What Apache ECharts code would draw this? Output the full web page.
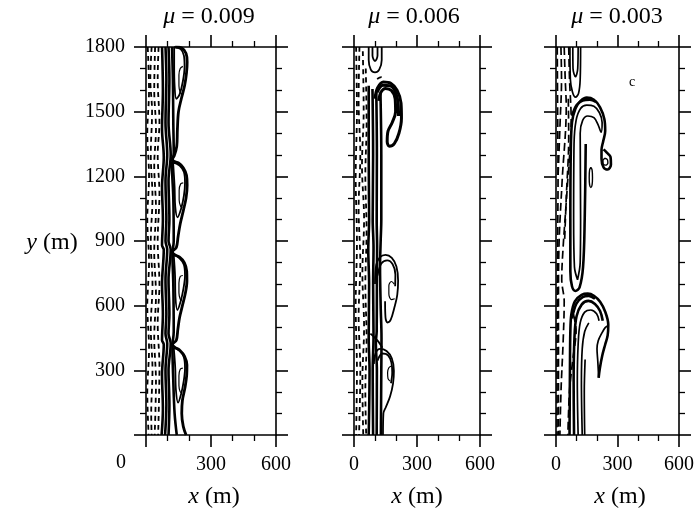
<!DOCTYPE html>
<html>
<head>
<meta charset="utf-8">
<script src="https://cdn.jsdelivr.net/npm/echarts@6/dist/echarts.min.js"></script>
<style>
  html, body { margin: 0; padding: 0; background: #fff; }
  #chart { width: 697px; height: 515px; }
</style>
</head>
<body>
<div id="chart"></div>
<script>
// panel titles and axis ticks
const panelTitles = ['0.009', '0.006', '0.003'];
const xTicks = [0, 300, 600];
const yTicks = [0, 300, 600, 900, 1200, 1500, 1800];

// ---- panel 1 (mu = 0.009), x / y in metres ----
const p1Dash1 = [[8,1800],[14,1600],[6,1400],[14,1200],[6,1000],[14,800],[6,600],[14,400],[6,200],[12,0]];
const p1Dash2 = [[26,1800],[20,1650],[28,1500],[22,1300],[30,1100],[22,900],[30,700],[22,500],[30,300],[24,100],[26,0]];
const p1Dash3 = [[42,1800],[38,1600],[46,1420],[38,1250],[46,1050],[38,850],[46,650],[38,450],[46,250],[40,0]];
const p1Dash4 = [[58,1800],[54,1650],[62,1450],[54,1300],[62,1120],[54,900],[62,700],[54,520],[62,320],[56,0]];
const p1BandA = [[74,1800],[78,1600],[74,1420],[82,1290],[74,1150],[78,1000],[74,880],[82,860],[74,700],[78,560],[74,440],[82,420],[74,280],[78,120],[72,0]];
const p1BandB = [[90,1800],[94,1650],[90,1450],[98,1300],[90,1180],[94,1000],[90,900],[98,860],[90,720],[94,560],[90,470],[98,425],[90,300],[94,140],[88,0]];
const p1BandC = [[104,1800],[108,1650],[104,1450],[114,1300],[104,1180],[108,1000],[104,900],[114,860],[104,720],[108,560],[104,470],[114,425],[104,300],[108,140],[104,0]];
const p1BandD = [[120,1800],[124,1650],[126,1450],[128,1310],[120,1250],[126,1100],[128,900],[122,840],[126,700],[128,480],[122,410],[126,250],[132,100],[142,0]];
const p1Outer = [[135,1800],[165,1795],[185,1770],[190,1730],[187,1680],[178,1620],[163,1560],[150,1500],[145,1420],[142,1340],[130,1295],[118,1280],[128,1270],[150,1262],[172,1240],[187,1205],[190,1160],[185,1100],[172,1040],[158,980],[148,920],[140,870],[122,850],[130,838],[155,825],[177,800],[188,760],[189,715],[182,660],[168,600],[155,545],[147,490],[140,440],[122,420],[132,408],[157,392],[178,365],[189,325],[188,280],[180,220],[168,160],[165,100],[172,40],[185,0]];
const p1Loop1 = [[130,1800],[160,1790],[175,1760],[178,1710],[170,1640],[155,1580],[140,1560],[132,1620],[130,1720],[130,1800]];
const p1Loop2 = [[125,1265],[155,1250],[175,1220],[180,1170],[175,1110],[162,1050],[145,1010],[135,1060],[132,1150],[125,1265]];
const p1Loop3 = [[128,835],[155,820],[175,790],[180,740],[173,680],[160,620],[145,580],[136,640],[134,740],[128,835]];
const p1Loop4 = [[128,405],[155,390],[175,360],[180,310],[174,250],[162,190],[148,150],[138,210],[135,310],[128,405]];
const p1Curl1 = [[170,1710],[158,1700],[152,1670],[152,1620],[158,1590],[168,1580]];
const p1Curl2 = [[172,1170],[160,1165],[153,1135],[153,1090],[160,1060],[168,1055]];
const p1Curl3 = [[170,740],[158,735],[152,705],[152,660],[158,630],[166,625]];
const p1Curl4 = [[170,310],[158,305],[152,275],[152,230],[158,200],[166,195]];

// ---- panel 2 (mu = 0.006) ----
const p2Dash1 = [[10,1800],[14,1500],[8,1200],[14,900],[8,600],[14,300],[10,0]];
const p2Dash2 = [[26,1800],[22,1550],[30,1300],[22,1050],[30,800],[22,550],[30,300],[24,0]];
const p2Dash3 = [[42,1780],[46,1500],[38,1250],[48,1000],[40,750],[48,500],[40,250],[44,0]];
const p2Dash4 = [[56,1700],[60,1450],[54,1200],[60,950],[54,700],[60,450],[54,200],[58,0]];
const p2DashTop = [[110,1652],[130,1660],[150,1655]];
const p2BandA = [[70,1620],[70,1300],[72,1000],[68,860],[72,700],[70,450],[74,300],[70,0]];
const p2BandB = [[88,1605],[91,1300],[89,1000],[93,870],[91,700],[93,460],[89,300],[91,0]];
const p2BandC = [[106,1598],[109,1300],[108,1000],[110,875],[109,700],[108,480],[104,430],[109,300],[108,0]];
const p2BandD = [[126,1585],[130,1300],[130,1000],[127,900],[124,780],[127,600],[131,450],[130,300],[128,0]];
const p2TopU = [[70,1800],[70,1740],[80,1695],[100,1682],[120,1695],[132,1740],[132,1800]];
const p2TopU2 = [[88,1800],[88,1760],[100,1735],[112,1760],[112,1800]];
const p2Hook1 = [[100,1560],[112,1610],[140,1638],[175,1632],[205,1600],[224,1540],[226,1470],[214,1400],[192,1352],[168,1340],[158,1362],[162,1410],[182,1450],[198,1500],[196,1560],[178,1598],[150,1608],[128,1590],[118,1550]];
const p2Hook1b = [[110,1590],[138,1622],[172,1620],[198,1590],[210,1540],[212,1480]];
const p2Lobe2 = [[100,700],[106,790],[124,825],[150,836],[180,822],[202,782],[210,716],[206,650],[192,590],[175,535],[160,522],[150,545],[148,620]];
const p2Lobe2b = [[112,740],[130,795],[158,810],[184,792],[197,745],[196,690]];
const p2Curl2 = [[192,700],[178,712],[166,692],[166,655],[178,628],[194,632]];
const p2Neck = [[78,470],[95,455],[110,440],[122,425],[135,405]];
const p2Lobe3 = [[95,330],[102,378],[124,400],[155,390],[180,356],[190,298],[186,240],[172,180],[152,130],[140,100],[138,0]];
const p2Lobe3b = [[112,345],[135,378],[162,370],[178,336],[182,290],[176,240]];
const p2Curl3 = [[178,320],[166,312],[160,290],[162,262],[172,250]];

// ---- panel 3 (mu = 0.003) ----
const p3DashA = [[6,1800],[8,1500],[10,1200],[8,900],[6,600],[5,300],[5,0]];
const p3DashB = [[40,1800],[45,1650],[50,1521],[30,1180],[14,856],[12,600],[12,0]];
const p3DashC = [[62,1800],[66,1650],[74,1460],[55,1150],[34,860],[28,720],[40,620],[35,437],[25,220],[19,0]];
const p3DashD = [[24,1800],[27,1650],[20,1450],[10,1200]];
const p3DashE = [[85,560],[98,484],[82,350],[66,205],[58,0]];
const p3DashF = [[60,1560],[62,1380],[50,1100],[42,900]];
const p3TopU = [[68,1800],[70,1650],[80,1592],[95,1567],[110,1585],[118,1650],[120,1800]];
const p3TopU2 = [[82,1800],[83,1700],[95,1662],[106,1700],[108,1800]];
const p3Hook1 = [[145,1350],[140,1000],[132,780],[115,685],[95,668],[78,690],[70,760],[70,1000],[72,1300],[78,1450],[95,1515],[120,1550],[150,1565],[185,1555],[215,1520],[236,1465],[240,1410],[230,1362],[222,1322],[222,1282],[232,1242],[252,1232],[268,1255],[266,1290],[248,1310],[232,1325]];
const p3Hook1b = [[105,720],[90,780],[86,1000],[88,1350],[98,1460],[120,1515],[150,1530],[185,1525],[212,1495],[225,1450],[220,1405],[205,1440],[185,1472],[155,1480],[130,1460],[118,1400],[120,1000],[118,800],[105,720]];
const p3Hook1c = [[78,1480],[100,1530],[130,1552],[165,1556],[195,1545]];
const p3Ring = [[240,1284],[251,1277],[253,1262],[242,1252],[230,1258],[229,1274],[240,1284]];
const p3Blob = [[170,1242],[176,1230],[178,1195],[176,1160],[170,1148],[164,1160],[162,1195],[164,1230],[170,1242]];
const p3Hook2 = [[66,0],[68,300],[70,480],[75,560],[92,620],[125,650],[155,656],[185,646],[215,618],[240,572],[255,512],[252,462],[240,420],[226,370],[214,310],[208,265]];
const p3Hook2Tail = [[255,508],[240,498],[222,470],[206,437],[200,400],[204,340],[208,268]];
const p3Hook2B = [[88,0],[86,250],[90,450],[100,550],[125,605],[158,622],[190,608],[215,575],[228,530]];
const p3Hook2C = [[108,0],[104,250],[108,420],[118,520],[140,570],[170,580],[198,562],[210,530]];
const p3Hook2D = [[128,0],[124,250],[128,400],[140,480],[160,520]];
const p3Hook2E = [[140,0],[138,200],[142,350]];
const p3Hook2F = [[78,540],[100,610],[130,640],[160,645],[190,632]];

const SERIF = 'Liberation Serif';
const grids = [
  { left: 146, top: 47, width: 130, height: 388 },
  { left: 354, top: 47, width: 126, height: 388 },
  { left: 556, top: 47, width: 127, height: 388 }
];

function line(data, g, w, dash) {
  return {
    type: 'line', xAxisIndex: g * 2, yAxisIndex: g * 2, data: data,
    symbol: 'none', smooth: 0.35, silent: true,
    lineStyle: { color: '#000', width: w, type: dash || 'solid' }
  };
}

function axisBase(g) {
  return {
    type: 'value', gridIndex: g,
    axisLine: { show: true, onZero: false, lineStyle: { color: '#000', width: 1.6 } },
    axisTick: { show: true, length: 12, lineStyle: { color: '#000', width: 1.6 } },
    minorTick: { show: true, splitNumber: 3, length: 6, lineStyle: { color: '#000', width: 1.3 } },
    splitLine: { show: false }
  };
}

const xAxes = [], yAxes = [];
grids.forEach(function (gr, g) {
  ['bottom', 'top'].forEach(function (pos) {
    xAxes.push(Object.assign(axisBase(g), {
      position: pos, min: xTicks[0], max: xTicks[xTicks.length - 1], interval: 300,
      axisLabel: {
        show: pos === 'bottom', margin: 20, color: '#000', fontFamily: SERIF, fontSize: 20,
        formatter: function (v) { return (g === 0 && v === 0) ? '' : String(v); }
      }
    }));
  });
  ['left', 'right'].forEach(function (pos) {
    yAxes.push(Object.assign(axisBase(g), {
      position: pos, min: yTicks[0], max: yTicks[yTicks.length - 1], interval: 300,
      axisLabel: {
        show: pos === 'left' && g === 0, margin: 21, color: '#000', fontFamily: SERIF, fontSize: 20,
        formatter: function (v) { return v === 0 ? '' : String(v); }
      }
    }));
  });
});

const shortDash = [5, 4];
const longDash = [8, 4];
const series = [];
[p1Dash1, p1Dash2, p1Dash3, p1Dash4].forEach(d => series.push(line(d, 0, 1.8, shortDash)));
[p1BandA, p1BandB, p1BandC, p1BandD].forEach(d => series.push(line(d, 0, 2.6, null)));
series.push(line(p1Outer, 0, 2.8, null));
[p1Loop1, p1Loop2, p1Loop3, p1Loop4].forEach(d => series.push(line(d, 0, 1.8, null)));
[p1Curl1, p1Curl2, p1Curl3, p1Curl4].forEach(d => series.push(line(d, 0, 1.2, null)));

[p2Dash1, p2Dash2, p2Dash3, p2Dash4, p2DashTop].forEach(d => series.push(line(d, 1, 1.8, shortDash)));
[p2BandA, p2BandB, p2BandC, p2BandD].forEach(d => series.push(line(d, 1, 2.6, null)));
[p2Hook1, p2Hook1b].forEach(d => series.push(line(d, 1, 3, null)));
[p2TopU, p2TopU2, p2Lobe2, p2Lobe2b, p2Neck, p2Lobe3, p2Lobe3b].forEach(d => series.push(line(d, 1, 1.8, null)));
[p2Curl2, p2Curl3].forEach(d => series.push(line(d, 1, 1.2, null)));

[p3DashA, p3DashB, p3DashC, p3DashD, p3DashE, p3DashF].forEach(d => series.push(line(d, 2, 1.7, longDash)));
[p3Hook1, p3Hook2, p3Hook2B, p3Hook1c, p3Hook2F].forEach(d => series.push(line(d, 2, 2.6, null)));
[p3TopU, p3TopU2, p3Hook1b, p3Hook2Tail, p3Hook2C, p3Hook2D, p3Hook2E].forEach(d => series.push(line(d, 2, 1.7, null)));
[p3Ring, p3Blob].forEach(d => series.push(line(d, 2, 1.4, null)));

function txt(text, x, y, size) {
  return {
    type: 'text', x: x, y: y, silent: true,
    style: {
      text: text, fill: '#000', fontFamily: SERIF, fontSize: size,
      align: 'center', verticalAlign: 'middle',
      rich: { i: { fontStyle: 'italic', fontFamily: SERIF, fontSize: size, fill: '#000' } }
    }
  };
}

const titleX = [209, 414, 617];
const nameX = [214, 417, 620];
const graphics = [];
panelTitles.forEach(function (t, i) {
  graphics.push(txt('{i|\u03bc} = ' + t, titleX[i], 17, 24));
  graphics.push(txt('{i|x} (m)', nameX[i], 497, 24));
});
graphics.push(txt('{i|y} (m)', 52, 243, 24));
graphics.push(txt('0', 121, 463, 20));
graphics.push(txt('c', 632, 82, 14));

const chart = echarts.init(document.getElementById('chart'), null, { renderer: 'canvas' });
chart.setOption({
  animation: false,
  backgroundColor: '#fff',
  grid: grids,
  xAxis: xAxes,
  yAxis: yAxes,
  series: series,
  graphic: graphics
});
</script>
</body>
</html>
